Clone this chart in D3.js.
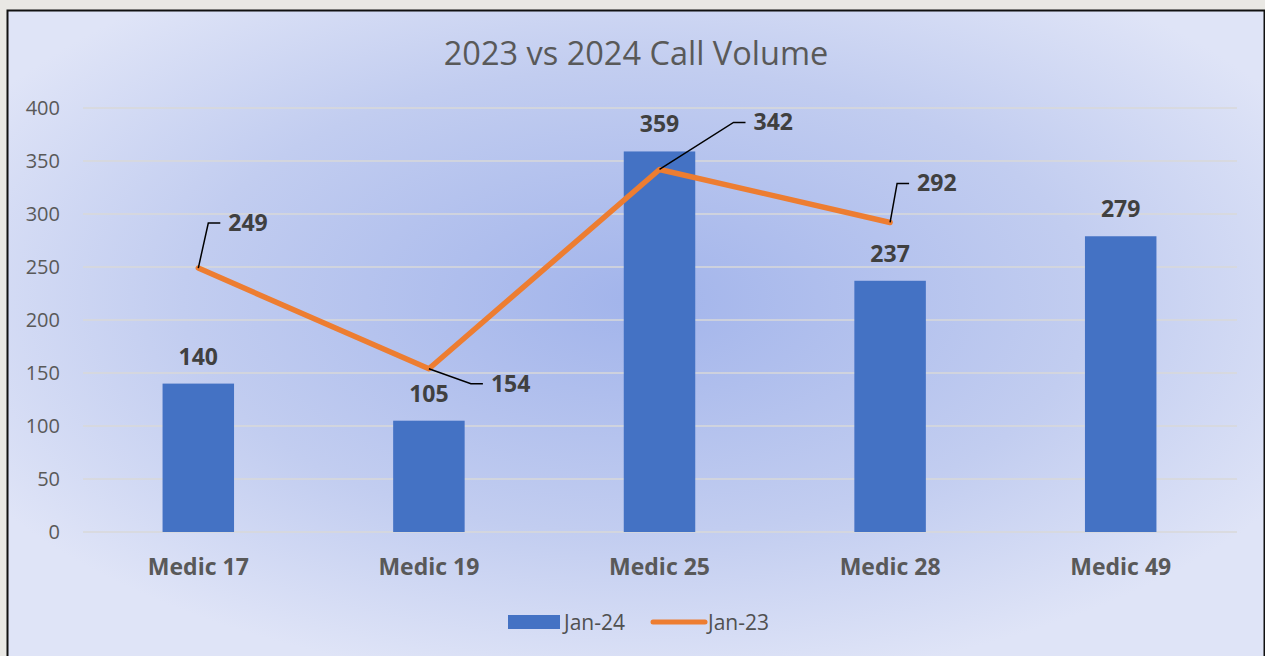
<!DOCTYPE html>
<html>
<head>
<meta charset="utf-8">
<script src="https://cdn.jsdelivr.net/npm/d3@7"></script>
<style>
  html, body { margin: 0; padding: 0; background: #e9e8e4; }
  svg { display: block; font-family: "Open Sans", sans-serif; }
</style>
</head>
<body>
<svg width="1265" height="656"></svg>
<script>
// chart data
const categories = ["Medic 17", "Medic 19", "Medic 25", "Medic 28", "Medic 49"];
const jan24 = [140, 105, 359, 237, 279];
const jan23 = [249, 154, 342, 292, null];
const yTicks = [0, 50, 100, 150, 200, 250, 300, 350, 400];

// leader line offsets for the Jan-23 labels (pixels from the point)
const leaderOffsets = [[10, -45], [42, 15], [74, -47], [7, -39]];

let svg = d3.select("svg");
let width = +svg.attr("width");
let height = +svg.attr("height");

let defs = svg.append("defs");
let grad = defs.append("radialGradient")
  .attr("id", "bg")
  .attr("cx", "50%").attr("cy", "45%")
  .attr("r", "60%");
grad.append("stop").attr("offset", "0%").attr("stop-color", "#a2b4eb");
grad.append("stop").attr("offset", "60%").attr("stop-color", "#c2cdf0");
grad.append("stop").attr("offset", "100%").attr("stop-color", "#dfe4f7");

// chart frame
svg.append("rect")
  .attr("x", 7).attr("y", 10)
  .attr("width", width - 7).attr("height", height - 10)
  .attr("fill", "url(#bg)");
svg.append("path")
  .attr("d", `M7.5,${height} V10.5 H${width - 0.5} V${height}`)
  .attr("fill", "none")
  .attr("stroke", "#111")
  .attr("stroke-width", 2);

let x = d3.scaleBand()
  .domain(categories)
  .range([83, 1236])
  .paddingInner(0.69)
  .paddingOuter(0.345);

let y = d3.scaleLinear()
  .domain([0, 400])
  .range([532, 108]);

// gridlines
svg.append("g")
  .selectAll("line")
  .data(yTicks)
  .enter().append("line")
    .attr("x1", 83).attr("x2", 1237)
    .attr("y1", d => y(d)).attr("y2", d => y(d))
    .attr("stroke", "#d9d9d9")
    .attr("stroke-width", 1.5);

// y axis labels
let yAxis = svg.append("g")
  .attr("transform", "translate(60,0)")
  .call(d3.axisLeft(y).tickValues(yTicks).tickSize(0).tickPadding(0));
yAxis.select(".domain").remove();
yAxis.selectAll("text")
  .attr("font-family", "Open Sans")
  .attr("font-size", 20)
  .attr("fill", "#595959");

// x axis labels
let xAxis = svg.append("g")
  .attr("transform", "translate(0,532)")
  .call(d3.axisBottom(x).tickSize(0).tickPadding(27));
xAxis.select(".domain").remove();
xAxis.selectAll("text")
  .attr("font-family", "Open Sans")
  .attr("font-size", 23)
  .attr("font-weight", "bold")
  .attr("fill", "#595959");

// bars
svg.append("g")
  .selectAll("rect")
  .data(jan24)
  .enter().append("rect")
    .attr("x", (d, i) => x(categories[i]))
    .attr("width", x.bandwidth())
    .attr("y", d => y(d))
    .attr("height", d => y(0) - y(d))
    .attr("fill", "#4472c4");

svg.append("g")
  .selectAll("text")
  .data(jan24)
  .enter().append("text")
    .attr("x", (d, i) => x(categories[i]) + x.bandwidth() / 2)
    .attr("y", d => y(d) - 19)
    .attr("text-anchor", "middle")
    .attr("font-size", 23)
    .attr("font-weight", "bold")
    .attr("fill", "#404040")
    .text(d => d);

// line
let cx = i => x(categories[i]) + x.bandwidth() / 2;
let pts = jan23.map((v, i) => ({ v: v, i: i })).filter(p => p.v != null);

svg.append("path")
  .datum(pts)
  .attr("fill", "none")
  .attr("stroke", "#ed7d31")
  .attr("stroke-width", 5.5)
  .attr("stroke-linejoin", "round")
  .attr("stroke-linecap", "round")
  .attr("d", d3.line().x(p => cx(p.i)).y(p => y(p.v)));

// leader lines + labels
let lbl = svg.append("g");
pts.forEach(p => {
  let o = leaderOffsets[p.i];
  let px = cx(p.i), py = y(p.v);
  let ex = px + o[0], ey = py + o[1];
  lbl.append("path")
    .attr("d", `M${px},${py} L${ex},${ey} H${ex + 12}`)
    .attr("fill", "none")
    .attr("stroke", "#000")
    .attr("stroke-width", 1.5);
  lbl.append("text")
    .attr("x", ex + 20)
    .attr("y", ey + 8)
    .attr("font-size", 23)
    .attr("font-weight", "bold")
    .attr("fill", "#404040")
    .text(p.v);
});

// title
svg.append("text")
  .attr("x", 636).attr("y", 65)
  .attr("text-anchor", "middle")
  .attr("font-size", 32.5)
  .attr("fill", "#595959")
  .text("2023 vs 2024 Call Volume");

// legend
let leg = svg.append("g").attr("font-size", 21).attr("fill", "#505050");
leg.append("rect")
  .attr("x", 508).attr("y", 615).attr("width", 52).attr("height", 14)
  .attr("fill", "#4472c4");
leg.append("text").attr("x", 564).attr("y", 630).text("Jan-24");
leg.append("line")
  .attr("x1", 653).attr("x2", 705).attr("y1", 622).attr("y2", 622)
  .attr("stroke", "#ed7d31").attr("stroke-width", 5)
  .attr("stroke-linecap", "round");
leg.append("text").attr("x", 708).attr("y", 630).text("Jan-23");
</script>
</body>
</html>
